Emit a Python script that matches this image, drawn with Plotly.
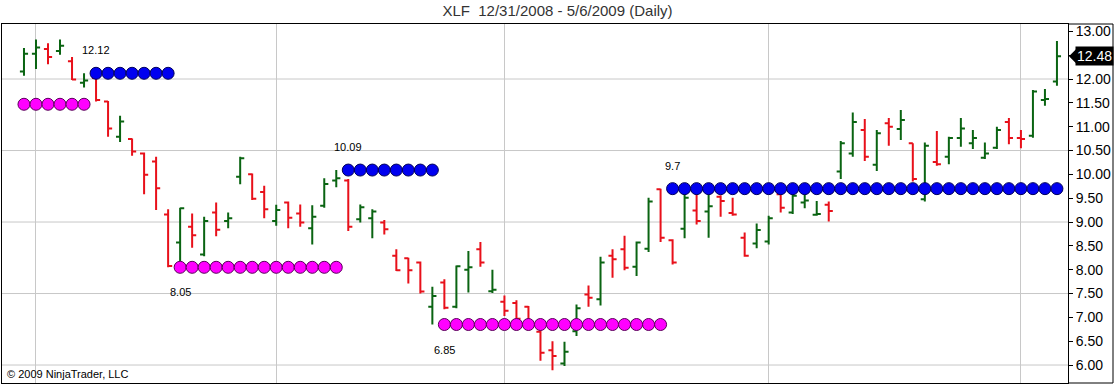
import plotly.graph_objects as go
import pandas as pd

# ---------------- data ----------------
holidays = ["2009-01-01", "2009-01-19", "2009-02-16", "2009-04-10"]
dates = [d.strftime("%Y-%m-%d") for d in pd.bdate_range("2008-12-31", "2009-05-06")
         if d.strftime("%Y-%m-%d") not in holidays]

opens = [12.16, 12.53, 12.63, 12.59, 12.37, 11.92, 12.02, 11.53, 10.79, 10.74,
         10.44, 10.27, 9.16, 8.57, 8.90, 8.32, 9.20, 9.02, 9.95, 10.00,
         9.63, 9.02, 9.41, 9.18, 8.87, 9.34, 9.87, 9.87, 9.06, 9.08,
         8.99, 8.29, 8.24, 8.15, 7.22, 7.73, 7.22, 8.00, 8.43, 7.55,
         7.33, 7.30, 7.22, 6.70, 6.31, 6.03, 6.71, 7.48, 7.38, 8.29,
         8.43, 8.06, 8.44, 9.69, 8.62, 8.86, 9.24, 9.22, 9.53, 9.19,
         8.67, 8.55, 8.59, 9.58, 9.20, 9.41, 9.15, 9.36, 10.06, 10.44,
         10.93, 10.20, 11.07, 10.95, 10.65, 9.48, 10.26, 10.37, 10.76, 10.65,
         10.35, 10.56, 11.10, 10.76, 10.81, 11.56, 11.95]
highs = [12.65, 12.83, 12.75, 12.83, 12.46, 12.12, 12.03, 11.54, 11.23, 10.75,
         10.46, 10.37, 9.27, 9.30, 9.18, 9.11, 9.41, 9.20, 10.37, 10.02,
         9.76, 9.36, 9.43, 9.37, 9.35, 9.92, 10.09, 9.90, 9.37, 9.27,
         9.04, 8.43, 8.25, 8.17, 7.64, 7.80, 8.09, 8.39, 8.58, 8.00,
         7.46, 7.36, 7.24, 6.74, 6.50, 6.49, 7.27, 7.67, 8.27, 8.43,
         8.71, 8.59, 9.51, 9.70, 8.64, 9.62, 9.60, 9.60, 9.56, 9.51,
         8.78, 8.97, 9.13, 9.62, 9.60, 9.58, 9.44, 9.43, 10.70, 11.30,
         11.16, 10.93, 11.18, 11.35, 10.65, 10.67, 10.91, 10.79, 11.18, 10.93,
         10.67, 11.00, 11.18, 10.93, 11.77, 11.79, 12.80]
lows = [12.07, 12.21, 12.31, 12.51, 11.98, 11.82, 11.53, 10.79, 10.68, 10.39,
        9.58, 9.25, 8.05, 8.18, 8.46, 8.28, 8.70, 8.87, 9.79, 9.46,
        9.08, 8.92, 8.87, 8.90, 8.53, 9.30, 9.73, 8.81, 8.99, 8.66,
        8.74, 7.97, 7.71, 7.50, 6.85, 7.17, 7.19, 7.52, 8.06, 7.51,
        7.03, 6.93, 6.73, 6.09, 5.89, 5.98, 6.61, 7.22, 7.25, 7.83,
        7.99, 7.87, 8.37, 8.58, 8.11, 8.66, 8.95, 8.67, 9.11, 9.13,
        8.27, 8.45, 8.53, 9.20, 9.17, 9.29, 9.13, 9.01, 9.90, 10.37,
        10.28, 10.07, 10.60, 10.72, 9.85, 9.43, 10.18, 10.21, 10.58, 10.53,
        10.32, 10.53, 10.63, 10.55, 10.77, 11.44, 11.86]
closes = [12.53, 12.66, 12.46, 12.70, 11.99, 11.97, 11.56, 10.96, 11.11, 10.48,
          9.99, 9.71, 8.08, 9.29, 8.72, 9.02, 8.84, 9.08, 10.34, 9.49,
          9.27, 9.25, 9.09, 8.99, 9.11, 9.80, 9.92, 8.90, 9.31, 9.22,
          8.85, 7.99, 7.99, 7.54, 7.45, 7.20, 8.07, 8.05, 8.15, 7.58,
          7.14, 6.97, 6.80, 6.26, 6.19, 6.28, 7.19, 7.41, 8.15, 8.22,
          8.04, 8.57, 9.43, 8.67, 8.15, 9.51, 9.02, 9.33, 9.44, 9.16,
          8.29, 8.83, 9.08, 9.30, 9.55, 9.45, 9.17, 9.23, 10.65, 11.10,
          10.37, 10.86, 11.00, 11.14, 9.90, 10.60, 10.21, 10.76, 10.96, 10.76,
          10.44, 10.93, 10.76, 10.74, 11.74, 11.58, 12.48]

# support / resistance levels (dots)
level_values = [11.47, 12.12, 8.05, 10.09, 6.85, 9.70]
level_start = [0, 6, 13, 27, 35, 54]
level_end = [5, 12, 26, 34, 53, 86]
level_kind = ["support", "resistance", "support", "resistance", "support", "resistance"]
level_labels = ["", "12.12", "8.05", "10.09", "6.85", "9.7"]

month_starts = ["2009-01-02", "2009-02-02", "2009-03-02", "2009-04-01", "2009-05-01"]
grid_levels = [6.0, 7.5, 9.0, 10.5, 12.0]

# ---------------- styles ----------------
GREEN = "#0a6412"
RED = "#e8101a"
GRID = "#c8c8c8"
FONT = "Arial, Liberation Sans, sans-serif"
dot_style = {
    "support": dict(color="#ff00ff", line=dict(color="#5a005a", width=1)),
    "resistance": dict(color="#0000f0", line=dict(color="#00005a", width=1)),
}

fig = go.Figure()
fig.add_trace(go.Ohlc(
    x=dates, open=opens, high=highs, low=lows, close=closes,
    increasing=dict(line=dict(color=GREEN, width=2)),
    decreasing=dict(line=dict(color=RED, width=2)),
    tickwidth=0.34, showlegend=False, hoverinfo="skip",
))

annotations = []
for val, s, e, kind, lab in zip(level_values, level_start, level_end, level_kind, level_labels):
    xs = dates[s:e + 1]
    fig.add_trace(go.Scatter(
        x=xs, y=[val] * len(xs), mode="markers",
        marker=dict(size=12, **dot_style[kind]),
        showlegend=False, hoverinfo="skip",
    ))
    if lab:
        annotations.append(dict(
            x=dates[s], y=val, xref="x", yref="y", text=lab, showarrow=False,
            yshift=23 if kind == "resistance" else -25,
            font=dict(family=FONT, size=11, color="#000"),
        ))

for g in grid_levels:
    fig.add_shape(type="line", xref="paper", yref="y", x0=0, x1=1, y0=g, y1=g,
                  line=dict(color=GRID, width=1), layer="below")

# last price box
last = closes[-1]
annotations.append(dict(
    x=1, xref="paper", y=last, yref="y", text=f"{last:.2f}", showarrow=False,
    xanchor="left", xshift=7, bgcolor="#000", borderpad=1,
    font=dict(family=FONT, size=14, color="#fff"),
))
fig.add_shape(type="path", xref="paper", yref="y", xsizemode="pixel", ysizemode="pixel",
              xanchor=1, yanchor=last, path="M 1,0 L 8,7 L 8,-7 Z",
              fillcolor="#000", line=dict(width=0))

annotations.append(dict(
    x=0, y=0, xref="paper", yref="paper", xanchor="left", yanchor="bottom",
    xshift=3, yshift=1, text="© 2009 NinjaTrader, LLC", showarrow=False,
    font=dict(family=FONT, size=11, color="#000"),
))

# outer frame extension to the right of the axis
W, H = 1115, 385
ML, MR, MT, MB = 2, 47, 24, 2
xr = (W - 2 - ML) / (W - ML - MR)
fig.add_shape(type="line", xref="paper", yref="paper", x0=1, x1=xr, y0=1, y1=1,
              line=dict(color="#000", width=1))
fig.add_shape(type="line", xref="paper", yref="paper", x0=1, x1=xr, y0=0, y1=0,
              line=dict(color="#000", width=1))
fig.add_shape(type="line", xref="paper", yref="paper", x0=xr, x1=xr, y0=0, y1=1,
              line=dict(color="#000", width=1))

fig.update_layout(
    width=W, height=H,
    margin=dict(l=ML, r=MR, t=MT, b=MB),
    paper_bgcolor="white", plot_bgcolor="white",
    title=dict(text="XLF\u00a0\u00a012/31/2008 - 5/6/2009 (Daily)", x=0.5, xref="container",
               y=1 - 11 / H, yref="container", xanchor="center", yanchor="middle",
               font=dict(family=FONT, size=15, color="#333")),
    annotations=annotations,
    xaxis=dict(type="category", categoryorder="array", categoryarray=dates,
               range=[-1.83, 86.92], tickvals=month_starts, showticklabels=False,
               ticks="", showgrid=True, gridcolor=GRID, gridwidth=1,
               showline=True, mirror=True, linecolor="#000", linewidth=1,
               zeroline=False, rangeslider=dict(visible=False), fixedrange=True),
    yaxis=dict(side="right", range=[5.623, 13.154], tick0=6, dtick=0.5, tickformat=".2f",
               ticks="outside", ticklen=4, tickcolor="#000", showgrid=False,
               showline=True, mirror=True, linecolor="#000", linewidth=1, zeroline=False,
               tickfont=dict(family=FONT, size=14, color="#000"), fixedrange=True),
)

fig.write_html("out.html", config={"staticPlot": True},
               post_script="document.body.style.margin='0px';document.body.style.overflow='hidden';")
